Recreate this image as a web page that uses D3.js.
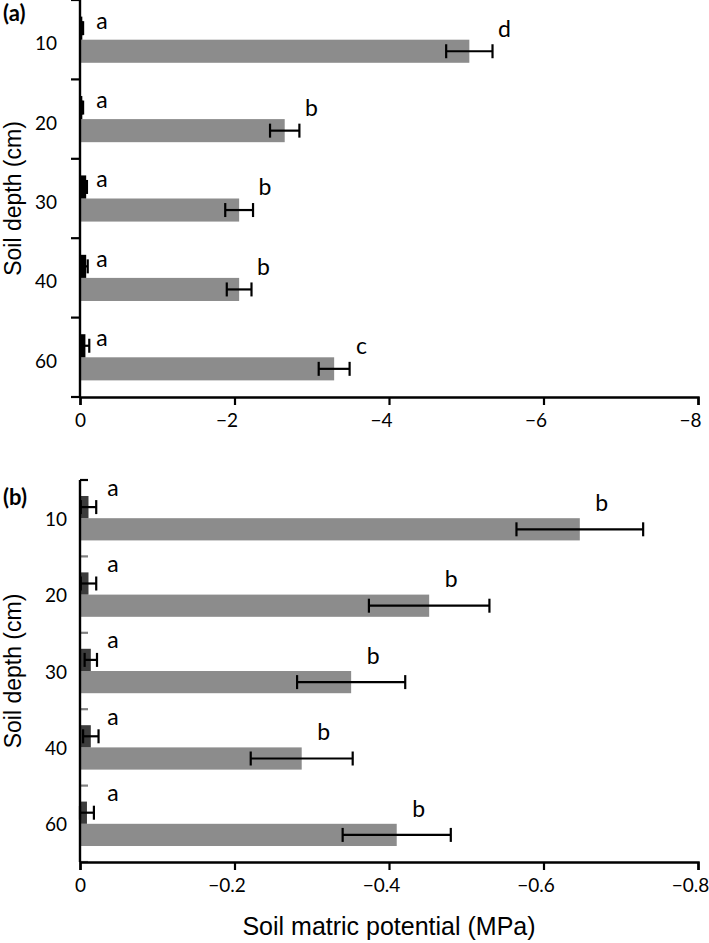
<!DOCTYPE html>
<html>
<head>
<meta charset="utf-8">
<script src="https://cdn.jsdelivr.net/npm/d3@7"></script>
<style>
  body { margin: 0; background: #fff; }
  svg { display: block; }
  .tick text { font-family: Lato, "Open Sans", sans-serif; }
</style>
</head>
<body>
<svg id="chart" width="709" height="943"></svg>
<script>
// soil depth categories
const depths = ["10", "20", "30", "40", "60"];

// panel (a): control (black) and treatment (gray), values in MPa
const aControl = [-0.03, -0.03, -0.08, -0.08, -0.07];
const aControlErr = [0.01, 0.01, 0.01, 0.02, 0.05];
const aTreat = [-5.04, -2.65, -2.06, -2.06, -3.29];
const aTreatErr = [0.30, 0.19, 0.18, 0.16, 0.20];
const aControlLetters = ["a", "a", "a", "a", "a"];
const aTreatLetters = ["d", "b", "b", "b", "c"];
const aTicks = [0, -2, -4, -6, -8];

// panel (b)
const bControl = [-0.011, -0.011, -0.014, -0.014, -0.009];
const bControlErr = [0.010, 0.010, 0.008, 0.010, 0.009];
const bTreat = [-0.647, -0.452, -0.351, -0.287, -0.410];
const bTreatErr = [0.082, 0.078, 0.070, 0.066, 0.070];
const bControlLetters = ["a", "a", "a", "a", "a"];
const bTreatLetters = ["b", "b", "b", "b", "b"];
const bTicks = [0, -0.2, -0.4, -0.6, -0.8];

const svg = d3.select("#chart");
const gray = "#8c8c8c";

function minusFmt(d) {
  if (d === 0) return "0";
  return "\u2212" + Math.abs(d);
}

function drawPanel(opt) {
  const g = svg.append("g");
  const x = d3.scaleLinear().domain(opt.domain).range([80, 698]);
  const y = d3.scaleBand().domain(depths).range([opt.top, opt.bottom]);
  const sub = d3.scaleBand().domain(["ctrl", "treat"]).range([0, y.bandwidth()])
    .paddingInner(0).paddingOuter(0.72);
  const rows = depths.map((d, i) => ({
    depth: d,
    ctrl: opt.ctrl[i], ctrlErr: opt.ctrlErr[i],
    treat: opt.treat[i], treatErr: opt.treatErr[i],
    ctrlLetter: opt.ctrlLetters[i], treatLetter: opt.treatLetters[i]
  }));

  // bars
  g.selectAll(".treat").data(rows).enter().append("rect")
    .attr("x", x(0))
    .attr("y", d => y(d.depth) + sub("treat"))
    .attr("width", d => x(d.treat) - x(0))
    .attr("height", sub.bandwidth())
    .attr("fill", gray);
  g.selectAll(".ctrl").data(rows).enter().append("rect")
    .attr("x", x(0))
    .attr("y", d => y(d.depth) + sub("ctrl"))
    .attr("width", d => x(d.ctrl) - x(0))
    .attr("height", sub.bandwidth())
    .attr("fill", opt.ctrlColor);

  // error bars
  const cap = 7;
  ["ctrl", "treat"].forEach(k => {
    const eg = g.selectAll(".err-" + k).data(rows).enter().append("g")
      .attr("stroke", "#000").attr("stroke-width", 2.2);
    const cy = d => y(d.depth) + sub(k) + sub.bandwidth() / 2;
    eg.append("line")
      .attr("x1", d => x(d[k] + d[k + "Err"]))
      .attr("x2", d => x(d[k] - d[k + "Err"]))
      .attr("y1", cy).attr("y2", cy);
    [1, -1].forEach(s => {
      eg.append("line")
        .attr("x1", d => x(d[k] + s * d[k + "Err"]))
        .attr("x2", d => x(d[k] + s * d[k + "Err"]))
        .attr("y1", d => cy(d) - cap).attr("y2", d => cy(d) + cap);
    });
  });

  // significance letters
  g.selectAll(".lc").data(rows).enter().append("text")
    .attr("x", x(0) + opt.ctrlLetterDx)
    .attr("y", d => y(d.depth) + y.bandwidth() * opt.ctrlLetterY)
    .attr("dy", "0.35em")
    .attr("text-anchor", "middle")
    .style("font-family", "Lato, sans-serif").style("font-size", "23px")
    .text(d => d.ctrlLetter);
  g.selectAll(".lt").data(rows).enter().append("text")
    .attr("x", d => x(opt.letterFromCap ? d.treat - d.treatErr : d.treat) + opt.treatLetterDx)
    .attr("y", d => y(d.depth) + y.bandwidth() * opt.treatLetterY)
    .attr("dy", "0.35em")
    .attr("text-anchor", "middle")
    .style("font-family", "Lato, sans-serif").style("font-size", "23px")
    .text(d => d.treatLetter);

  // y axis: labels at band centres, ticks at band edges
  const yAxis = g.append("g").attr("transform", "translate(80,0)")
    .call(d3.axisLeft(y).tickSize(0).tickPadding(opt.labelPad));
  yAxis.select(".domain").remove();
  yAxis.selectAll("text").style("font-size", "19px").attr("fill", "#000")
    .attr("dy", opt.labelDy);

  const edges = d3.range(depths.length + 1).map(i => opt.top + i * y.step());
  g.selectAll(".edge").data(edges).enter().append("line")
    .attr("x1", 80).attr("x2", 80 + opt.edgeTick)
    .attr("y1", d => d).attr("y2", d => d)
    .attr("stroke", (d, i) => (i === 0 ? "#000" : opt.edgeColor))
    .attr("stroke-width", 2.2);
  g.append("line")
    .attr("x1", 80).attr("x2", 80)
    .attr("y1", opt.top).attr("y2", opt.bottom)
    .attr("stroke", "#000").attr("stroke-width", 2.4);

  // x axis
  const xAxis = g.append("g").attr("transform", "translate(0," + opt.bottom + ")")
    .call(d3.axisBottom(x).tickValues(opt.ticks).tickSize(8).tickPadding(9)
      .tickFormat(minusFmt));
  xAxis.select(".domain").attr("stroke-width", 2.4);
  xAxis.selectAll("line").attr("stroke-width", 2.2);
  xAxis.selectAll("text").style("font-size", "19px").attr("fill", "#000")
    .attr("dx", d => (d === 0 ? 0 : -8));

  // y title
  g.append("text")
    .attr("transform", "translate(21," + (opt.top + opt.bottom) / 2 + ") rotate(-90)")
    .attr("text-anchor", "middle")
    .style("font-family", "'Liberation Sans', Arial, sans-serif")
    .style("font-size", "23px")
    .text("Soil depth (cm)");

  // panel tag
  g.append("text")
    .attr("x", 3).attr("y", opt.tagY)
    .style("font-family", "Lato, sans-serif").style("font-weight", "bold")
    .style("font-size", "22px")
    .text(opt.tag);
}

drawPanel({
  domain: [0, -8], top: 0, bottom: 397, ticks: aTicks,
  ctrl: aControl, ctrlErr: aControlErr, treat: aTreat, treatErr: aTreatErr,
  ctrlLetters: aControlLetters, treatLetters: aTreatLetters,
  ctrlColor: "#000", edgeTick: -9, edgeColor: "#000",
  labelPad: 23, labelDy: "0.55em",
  ctrlLetterDx: 22, ctrlLetterY: 0.26,
  letterFromCap: true, treatLetterDx: 12, treatLetterY: 0.36,
  tag: "(a)", tagY: 21
});

drawPanel({
  domain: [0, -0.8], top: 480, bottom: 862, ticks: bTicks,
  ctrl: bControl, ctrlErr: bControlErr, treat: bTreat, treatErr: bTreatErr,
  ctrlLetters: bControlLetters, treatLetters: bTreatLetters,
  ctrlColor: "#3c3c3c", edgeTick: 8, edgeColor: "#808080",
  labelPad: 13, labelDy: "0.4em",
  ctrlLetterDx: 33, ctrlLetterY: 0.1,
  letterFromCap: false, treatLetterDx: 22, treatLetterY: 0.3,
  tag: "(b)", tagY: 505
});

// x title
svg.append("text")
  .attr("x", 389).attr("y", 935)
  .attr("text-anchor", "middle")
  .style("font-family", "'Liberation Sans', Arial, sans-serif")
  .style("font-size", "25px")
  .text("Soil matric potential (MPa)");
</script>
</body>
</html>
